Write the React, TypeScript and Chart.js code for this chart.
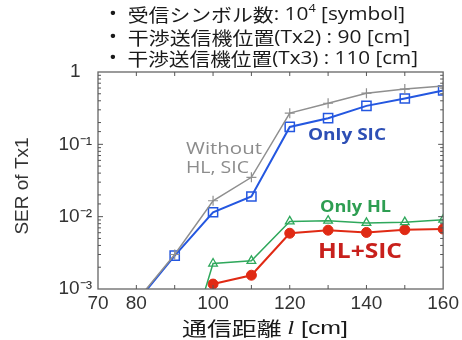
import React, { useEffect, useRef } from "react";
import { Chart, registerables } from "chart.js";

Chart.register(...registerables);

// Communication distance l [cm]
const distances = [80, 90, 100, 110, 120, 130, 140, 150, 160];

// Symbol error rate of Tx1 for each interference-handling scheme
const serWithout = [6.8e-4, 3.0e-3, 0.0166, 0.035, 0.27, 0.37, 0.51, 0.58, 0.64];
const serOnlySic = [6.5e-4, 2.9e-3, 0.0115, 0.019, 0.174, 0.23, 0.34, 0.43, 0.556];
const serOnlyHl = [null, 4e-5, 2.25e-3, 2.45e-3, 8.6e-3, 8.8e-3, 8.2e-3, 8.4e-3, 9.1e-3];
const serHlSic = [null, null, 1.17e-3, 1.55e-3, 5.9e-3, 6.5e-3, 6.05e-3, 6.6e-3, 6.75e-3];

// Tick labels
const xLabeled = [70, 80, 100, 120, 140, 160];
const yLabels: Record<string, string> = {
  "1": "1",
  "0.1": "10⁻¹",
  "0.01": "10⁻²",
  "0.001": "10⁻³",
};

const JP = '"Noto Sans CJK JP", "Noto Sans", sans-serif';
const SANS = '"Liberation Sans", Arial, sans-serif';
const LATIN = '"Open Sans", "Noto Sans", sans-serif';

type Run = { t: string; font: string; dy?: number; color?: string };

// Lays runs out side by side from x, then stretches the line horizontally to `width`
function drawLine(ctx: CanvasRenderingContext2D, runs: Run[], x: number, y: number, width?: number) {
  let total = 0;
  for (const r of runs) {
    ctx.font = r.font;
    total += ctx.measureText(r.t).width;
  }
  const sx = width ? width / total : 1;
  ctx.save();
  ctx.translate(x, y);
  ctx.scale(sx, 1);
  ctx.textAlign = "left";
  ctx.textBaseline = "middle";
  let cx = 0;
  for (const r of runs) {
    ctx.font = r.font;
    ctx.fillStyle = r.color || "#1a1a1a";
    ctx.fillText(r.t, cx, r.dy || 0);
    cx += ctx.measureText(r.t).width;
  }
  ctx.restore();
}

const HJ = `18px ${JP}`;
const HL = `18px ${LATIN}`;
const headerLines: Run[][] = [
  [
    { t: "•  ", font: HL },
    { t: "受信シンボル数", font: HJ },
    { t: ": 10", font: HL },
    { t: "4", font: `11px ${LATIN}`, dy: -6 },
    { t: " [symbol]", font: HL },
  ],
  [
    { t: "•  ", font: HL },
    { t: "干渉送信機位置", font: HJ },
    { t: "(Tx2) : 90 [cm]", font: HL },
  ],
  [
    { t: "•  ", font: HL },
    { t: "干渉送信機位置", font: HJ },
    { t: "(Tx3) : 110 [cm]", font: HL },
  ],
];
const headerY = [15, 38, 59];
const headerWidth = [296, 301, 309];

const framePlugin = {
  id: "frameAndNotes",
  afterDatasetsDraw(chart: any) {
    const { ctx, chartArea: a, scales } = chart;
    const xs = scales.x;
    const ys = scales.y;
    ctx.save();
    // frame
    ctx.strokeStyle = "#666";
    ctx.lineWidth = 1.3;
    ctx.strokeRect(a.left, a.top, a.right - a.left, a.bottom - a.top);
    // inward tick marks on all four sides
    ctx.lineWidth = 1;
    ctx.strokeStyle = "#555";
    ctx.beginPath();
    for (const t of xs.ticks) {
      const px = xs.getPixelForValue(t.value);
      if (px <= a.left + 1 || px >= a.right - 1) continue;
      ctx.moveTo(px, a.bottom);
      ctx.lineTo(px, a.bottom - 4);
      ctx.moveTo(px, a.top);
      ctx.lineTo(px, a.top + 4);
    }
    for (const t of ys.ticks) {
      const py = ys.getPixelForValue(t.value);
      if (py <= a.top + 1 || py >= a.bottom - 1) continue;
      const major = yLabels[String(t.value)] !== undefined;
      const len = major ? 5 : 3;
      ctx.moveTo(a.left, py);
      ctx.lineTo(a.left + len, py);
      ctx.moveTo(a.right, py);
      ctx.lineTo(a.right - len, py);
    }
    ctx.stroke();

    // series annotations
    drawLine(ctx, [{ t: "Without", font: `17px ${LATIN}`, color: "#8c8c8c" }], 186, 149, 76);
    drawLine(ctx, [{ t: "HL, SIC", font: `17px ${LATIN}`, color: "#8c8c8c" }], 186, 168, 63);
    drawLine(ctx, [{ t: "Only SIC", font: `bold 16px ${LATIN}`, color: "#2d4fb5" }], 308, 135, 78);
    drawLine(ctx, [{ t: "Only HL", font: `bold 16px ${LATIN}`, color: "#2e9e52" }], 320, 207, 71);
    drawLine(ctx, [{ t: "HL+SIC", font: `bold 21px ${LATIN}`, color: "#c8201c" }], 318, 252, 84);

    // header conditions
    headerLines.forEach((line, i) => drawLine(ctx, line, 109, headerY[i], headerWidth[i]));

    // x-axis title with italic variable
    drawLine(ctx, [
      { t: "通信距離 ", font: `19px ${JP}` },
      { t: "l", font: `italic 19px "Liberation Serif", serif` },
      { t: " [cm]", font: `19px ${SANS}` },
    ], 182, 329, 166);

    // y-axis title
    ctx.save();
    ctx.translate(23, 186);
    ctx.rotate(-Math.PI / 2);
    ctx.font = `19px ${SANS}`;
    ctx.fillStyle = "#333";
    ctx.textAlign = "center";
    ctx.textBaseline = "middle";
    ctx.fillText("SER of Tx1", 0, 0);
    ctx.restore();

    ctx.restore();
  },
};

export default function App() {
  const ref = useRef<HTMLCanvasElement | null>(null);

  useEffect(() => {
    document.body.style.margin = "0";
    const canvas = ref.current;
    if (!canvas) return;
    const chart = new Chart(canvas, {
      type: "line",
      data: {
        labels: distances,
        datasets: [
          {
            label: "Without HL, SIC",
            data: serWithout,
            borderColor: "#8f8f8f",
            backgroundColor: "#8f8f8f",
            borderWidth: 1.5,
            pointStyle: "cross",
            pointRadius: 5,
            pointBorderWidth: 1.2,
          },
          {
            label: "Only SIC",
            data: serOnlySic,
            borderColor: "#2457e0",
            backgroundColor: "rgba(0,0,0,0)",
            borderWidth: 2,
            pointStyle: "rect",
            pointRadius: 6.5,
            pointBorderWidth: 1.5,
          },
          {
            label: "Only HL",
            data: serOnlyHl,
            borderColor: "#2fa85c",
            backgroundColor: "rgba(0,0,0,0)",
            borderWidth: 1.5,
            pointStyle: "triangle",
            pointRadius: 5,
            pointBorderWidth: 1.3,
          },
          {
            label: "HL+SIC",
            data: serHlSic,
            borderColor: "#e02a14",
            backgroundColor: "#e02a14",
            borderWidth: 2,
            pointStyle: "circle",
            pointRadius: 5,
            pointBorderWidth: 1,
          },
        ],
      },
      options: {
        animation: false,
        responsive: false,
        maintainAspectRatio: false,
        spanGaps: false,
        layout: { padding: { left: 0, top: 72, right: 18, bottom: 0 } },
        plugins: {
          legend: { display: false },
          tooltip: { enabled: false },
        },
        scales: {
          x: {
            type: "linear",
            min: 70,
            max: 160,
            grid: { display: false, drawTicks: false },
            border: { display: false },
            ticks: {
              stepSize: 10,
              autoSkip: false,
              maxRotation: 0,
              padding: 3,
              color: "#333",
              font: { family: SANS, size: 19 },
              callback: (v: any) => (xLabeled.includes(Number(v)) ? String(v) : ""),
            },
            afterFit: (s: any) => {
              s.height = 51;
            },
          },
          y: {
            type: "logarithmic",
            min: 0.001,
            max: 1,
            grid: { display: false, drawTicks: false },
            border: { display: false },
            ticks: {
              autoSkip: false,
              padding: 6,
              crossAlign: "center",
              color: "#333",
              font: { family: SANS, size: 19 },
              callback: (v: any) => yLabels[String(Number(v))] ?? "",
            },
            afterFit: (s: any) => {
              s.width = 98;
            },
          },
        },
      },
      plugins: [framePlugin],
    } as any);
    return () => chart.destroy();
  }, []);

  return (
    <div style={{ position: "fixed", left: 0, top: 0, width: 462, height: 340, background: "#fff" }}>
      <canvas ref={ref} width={462} height={340} style={{ width: 462, height: 340, display: "block" }} />
    </div>
  );
}
